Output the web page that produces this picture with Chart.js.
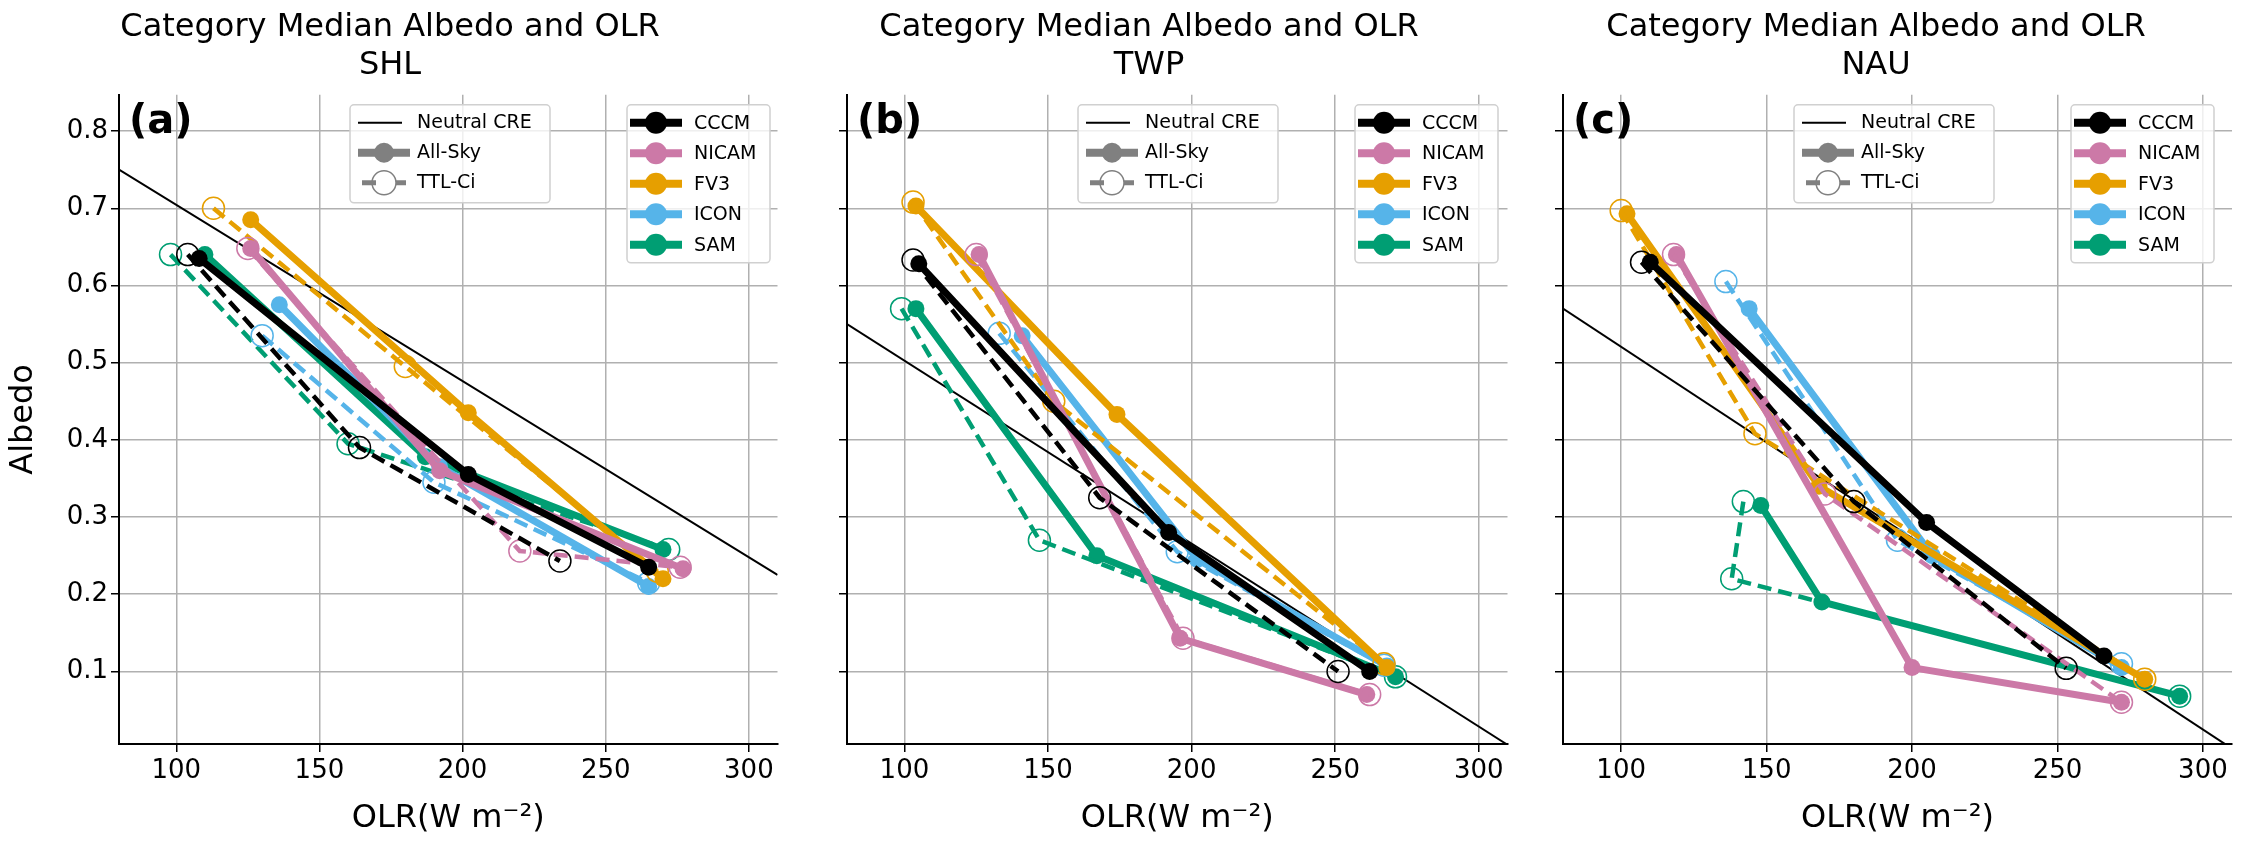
<!DOCTYPE html>
<html><head><meta charset="utf-8">
<script src="https://cdn.jsdelivr.net/npm/chart.js@4/dist/chart.umd.min.js"></script>
<style>
body{margin:0;background:#fff;width:2248px;height:842px;position:relative;overflow:hidden;font-family:"DejaVu Sans"}
.p{position:absolute;top:0;height:842px}
</style></head><body>
<div class="p" style="left:0;width:790px"><canvas id="c0"></canvas></div>
<div class="p" style="left:790px;width:730px"><canvas id="c1"></canvas></div>
<div class="p" style="left:1520px;width:728px"><canvas id="c2"></canvas></div>
<script>
// models and colours
const models = ['CCCM', 'NICAM', 'FV3', 'ICON', 'SAM'];
const colors = ['#000000', '#CC79A7', '#E69F00', '#56B4E9', '#009E73'];
const regions = ['SHL', 'TWP', 'NAU'];
const panelLabels = ['(a)', '(b)', '(c)'];

// neutral CRE line end points [olr, albedo]
const shlNeutral = [[80, 0.75], [310, 0.225]];
const twpNeutral = [[80, 0.55], [310, 0.005]];
const nauNeutral = [[80, 0.57], [310, 0.0]];

// all-sky category medians per model [olr, albedo]
const shlAllSky = [
    [[108, 0.635], [202, 0.355], [265, 0.235]],
    [[126, 0.648], [192, 0.36], [277, 0.233]],
    [[126, 0.685], [202, 0.435], [270, 0.22]],
    [[136, 0.575], [192, 0.365], [265, 0.21]],
    [[110, 0.64], [187, 0.378], [270, 0.258]]
];
const shlTTLCi = [
    [[104, 0.64], [164, 0.39], [234, 0.243]],
    [[125, 0.648], [220, 0.256], [276, 0.235]],
    [[113, 0.70], [180, 0.495], [268, 0.23]],
    [[130, 0.535], [190, 0.345], [265, 0.215]],
    [[98, 0.64], [160, 0.395], [272, 0.258]]
];
const twpAllSky = [
    [[105, 0.628], [192, 0.28], [262, 0.10]],
    [[126, 0.64], [196, 0.143], [261, 0.07]],
    [[104, 0.703], [174, 0.433], [268, 0.105]],
    [[141, 0.535], [202, 0.245], [268, 0.107]],
    [[104, 0.57], [167, 0.25], [271, 0.093]]
];
const twpTTLCi = [
    [[103, 0.633], [168, 0.325], [251, 0.10]],
    [[125, 0.64], [197, 0.143], [262, 0.07]],
    [[103, 0.708], [152, 0.45], [267, 0.11]],
    [[133, 0.538], [195, 0.255], [267, 0.108]],
    [[99, 0.57], [147, 0.27], [271, 0.093]]
];
const nauAllSky = [
    [[110, 0.63], [205, 0.293], [266, 0.12]],
    [[119, 0.64], [200, 0.105], [272, 0.06]],
    [[102, 0.693], [168, 0.34], [280, 0.09]],
    [[144, 0.57], [207, 0.25], [272, 0.105]],
    [[148, 0.315], [169, 0.19], [292, 0.068]]
];
const nauTTLCi = [
    [[107, 0.63], [180, 0.32], [253, 0.104]],
    [[118, 0.64], [170, 0.33], [272, 0.06]],
    [[100, 0.697], [146, 0.408], [280, 0.09]],
    [[136, 0.605], [195, 0.27], [272, 0.11]],
    [[142, 0.32], [138, 0.22], [292, 0.068]]
];

const xTicks = [100, 150, 200, 250, 300];
const yTicks = [0.1, 0.2, 0.3, 0.4, 0.5, 0.6, 0.7, 0.8];

const panels = [
    {neutral: shlNeutral, all: shlAllSky, ttl: shlTTLCi},
    {neutral: twpNeutral, all: twpAllSky, ttl: twpTTLCi},
    {neutral: nauNeutral, all: nauAllSky, ttl: nauTTLCi}
];
const yWidths = [119, 57, 43];
const rightPad = [10, 12, 16];

const pts = arr => arr.map(p => ({x: p[0], y: p[1]}));

// draws the two matplotlib-style legends and the panel letter
const legendPlugin = {
    id: 'legends',
    afterDraw(chart, args, opts) {
        const ctx = chart.ctx, a = chart.chartArea;
        ctx.save();
        ctx.font = 'bold 40px "DejaVu Sans"';
        ctx.fillStyle = '#000';
        ctx.textBaseline = 'top';
        ctx.fillText(opts.label, a.left + 10, a.top + 8);

        function box(x, y, w, h) {
            ctx.fillStyle = 'rgba(255,255,255,0.8)';
            ctx.strokeStyle = '#d0d0d0';
            ctx.lineWidth = 1.5;
            ctx.beginPath();
            ctx.roundRect(x, y, w, h, 4);
            ctx.fill(); ctx.stroke();
        }
        ctx.font = '19px "DejaVu Sans"';
        ctx.textBaseline = 'middle';
        // legend 1
        let x = a.left + 231, y = a.top + 10;
        box(x, y, 200, 98);
        const rows = [
            {t: 'Neutral CRE', kind: 'line'},
            {t: 'All-Sky', kind: 'solid'},
            {t: 'TTL-Ci', kind: 'dash'}
        ];
        rows.forEach((r, i) => {
            const cy = y + 18 + i * 30, lx = x + 8, cx = lx + 30;
            ctx.setLineDash([]);
            if (r.kind === 'line') {
                ctx.strokeStyle = '#000'; ctx.lineWidth = 2;
                ctx.beginPath(); ctx.moveTo(lx, cy); ctx.lineTo(lx + 44, cy); ctx.stroke();
            } else if (r.kind === 'solid') {
                ctx.strokeStyle = '#808080'; ctx.lineWidth = 8;
                ctx.beginPath(); ctx.moveTo(lx, cy); ctx.lineTo(lx + 52, cy); ctx.stroke();
                ctx.fillStyle = '#808080';
                ctx.beginPath(); ctx.arc(lx + 26, cy, 10, 0, Math.PI * 2); ctx.fill();
            } else {
                ctx.strokeStyle = '#808080'; ctx.lineWidth = 5;
                ctx.beginPath(); ctx.moveTo(lx + 4, cy); ctx.lineTo(lx + 18, cy); ctx.moveTo(lx + 38, cy); ctx.lineTo(lx + 48, cy); ctx.stroke();
                ctx.lineWidth = 1.5;
                ctx.beginPath(); ctx.arc(lx + 26, cy, 12, 0, Math.PI * 2); ctx.stroke();
            }
            ctx.fillStyle = '#000';
            ctx.fillText(r.t, x + 67, cy);
        });
        // legend 2
        x = a.left + 508; y = a.top + 10;
        box(x, y, 143, 158);
        models.forEach((m, i) => {
            const cy = y + 18 + i * 30.5, lx = x + 3;
            ctx.strokeStyle = colors[i]; ctx.lineWidth = 8;
            ctx.beginPath(); ctx.moveTo(lx, cy); ctx.lineTo(lx + 52, cy); ctx.stroke();
            ctx.fillStyle = colors[i];
            ctx.beginPath(); ctx.arc(lx + 26, cy, 11, 0, Math.PI * 2); ctx.fill();
            ctx.fillStyle = '#000';
            ctx.fillText(m, x + 67, cy + 1);
        });
        ctx.restore();
    }
};

panels.forEach((p, k) => {
    const datasets = [{
        data: pts(p.neutral), borderColor: '#000', borderWidth: 2,
        pointRadius: 0, showLine: true, order: 20
    }];
    models.forEach((m, i) => {
        datasets.push({
            label: m + ' TTL-Ci', data: pts(p.ttl[i]), showLine: true,
            borderColor: colors[i], borderWidth: 4.5, borderDash: [14, 7],
            pointRadius: 11, pointBackgroundColor: 'rgba(0,0,0,0)',
            pointBorderColor: colors[i], pointBorderWidth: 1.5
        });
        datasets.push({
            label: m, data: pts(p.all[i]), showLine: true,
            borderColor: colors[i], borderWidth: 7,
            pointRadius: 8.5, pointBackgroundColor: colors[i],
            pointBorderColor: colors[i], pointBorderWidth: 0
        });
    });
    new Chart(document.getElementById('c' + k), {
        type: 'scatter',
        data: {datasets},
        plugins: [legendPlugin],
        options: {
            responsive: true, maintainAspectRatio: false, animation: false,
            layout: {padding: {right: rightPad[k], top: 0}},
            plugins: {
                legend: {display: false}, tooltip: {enabled: false},
                title: {
                    display: true, text: ['Category Median Albedo and OLR', regions[k]],
                    color: '#000', font: {size: 32, weight: 'normal', family: 'DejaVu Sans'},
                    padding: {top: 8, bottom: 10}
                },
                legends: {label: panelLabels[k]}
            },
            scales: {
                x: {
                    type: 'linear', min: 80, max: 310,
                    afterBuildTicks: ax => { ax.ticks = xTicks.map(v => ({value: v})); },
                    afterFit: ax => { ax.height = 98; },
                    ticks: {color: '#000', font: {size: 26, family: 'DejaVu Sans'}, padding: 4},
                    grid: {color: '#b0b0b0', lineWidth: 1.5, tickLength: 8, tickColor: '#000'},
                    border: {color: '#000', width: 2},
                    title: {display: true, text: 'OLR(W m\u207B\u00B2)', color: '#000',
                        font: {size: 32, family: 'DejaVu Sans'}, padding: {top: 2}}
                },
                y: {
                    min: 0.006, max: 0.847,
                    afterBuildTicks: ax => { ax.ticks = yTicks.map(v => ({value: v})); },
                    afterFit: ax => { ax.width = yWidths[k]; },
                    ticks: {color: '#000', font: {size: 26, family: 'DejaVu Sans'},
                        callback: v => k === 0 ? v.toFixed(1) : ''},
                    grid: {color: '#b0b0b0', lineWidth: 1.5, tickLength: 8, tickColor: '#000'},
                    border: {color: '#000', width: 2},
                    title: {display: k === 0, text: 'Albedo', color: '#000',
                        font: {size: 32, family: 'DejaVu Sans'}}
                }
            }
        }
    });
});
</script>
</body></html>
